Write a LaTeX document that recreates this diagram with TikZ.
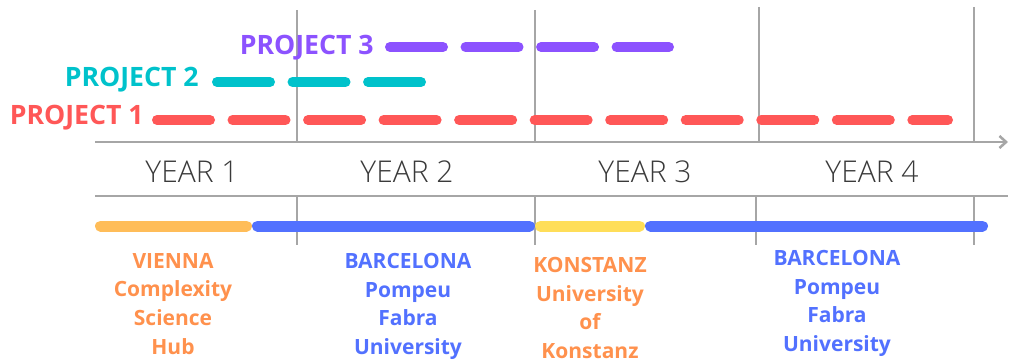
\documentclass[tikz,border=0pt]{standalone}
\usepackage{fontspec}
\setmainfont{Open Sans}
\newfontfamily\yearfont{Open Sans Light}
\usetikzlibrary{arrows.meta}
\definecolor{axisgrey}{HTML}{A6A6A6}
\definecolor{projred}{HTML}{FF5757}
\definecolor{projteal}{HTML}{00C2CB}
\definecolor{projpurple}{HTML}{8C52FF}
\definecolor{stayblue}{HTML}{5271FF}
\definecolor{stayorange}{HTML}{FFBD59}
\definecolor{stayyellow}{HTML}{FFDE59}
\definecolor{labelorange}{HTML}{FF914D}
\definecolor{yeargrey}{HTML}{3A3A3A}
\begin{document}
\begin{tikzpicture}[x=0.75pt,y=-0.75pt,
		axis/.style={draw=axisgrey,line width=1.9pt},
		project/.style={line width=7.5pt,line cap=round,dash pattern=on 39.75pt off 16.9pt},
		stay/.style={line width=8.25pt,line cap=round},
		projlabel/.style={font=\bfseries\fontsize{20}{24}\selectfont,anchor=base east,inner sep=0pt},
		yearlabel/.style={font=\yearfont\fontsize{22.5}{27}\selectfont,text=yeargrey,anchor=base,inner sep=0pt},
		placelabel/.style={font=\bfseries\fontsize{15.75}{21.5}\selectfont,align=center,anchor=north,inner sep=0pt}]
	\useasboundingbox (0,0) rectangle (1010,360);
	% year grid
	\draw[axis,-{Straight Barb[length=5pt,width=9pt]}] (95,142) -- (1008,142);
	\draw[axis] (95,196) -- (1008,196);
	\foreach \x/\t in {297/10,535/10,759/7,974/7}
		\draw[axis] (\x,\t) -- (\x,143);
	\foreach \x in {297,535,756,974}
		\draw[axis] (\x,196) -- (\x,245);
	\node[yearlabel] (year1) at (192,182) {YEAR 1};
	\node[yearlabel] (year2) at (407,182) {YEAR 2};
	\node[yearlabel] (year3) at (645,182) {YEAR 3};
	\node[yearlabel] (year4) at (872,182) {YEAR 4};
	% projects
	\node[projlabel,text=projpurple] (proj3) at (374,55) {PROJECT 3};
	\node[projlabel,text=projteal] (proj2) at (199,87) {PROJECT 2};
	\node[projlabel,text=projred] (proj1) at (144,124) {PROJECT 1};
	\draw[project,projpurple] (390,47) -- (669,47);
	\draw[project,projteal] (217,82) -- (421,82);
	\draw[project,projred] (157,120) -- (948,120);
	% where
	\draw[stay,stayyellow] (540.5,226) -- (639.5,226);
	\draw[stay,stayblue] (257.5,226) -- (529.5,226);
	\draw[stay,stayblue] (650.5,226) -- (982.5,226);
	\draw[stay,stayorange] (100.5,226) -- (246.5,226);
	\node[placelabel,text=labelorange] (vienna) at (173,253) {VIENNA\\Complexity\\Science\\Hub};
	\node[placelabel,text=stayblue] (bcn1) at (408,253) {BARCELONA\\Pompeu\\Fabra\\University};
	\node[placelabel,text=labelorange] (konstanz) at (590,257) {KONSTANZ\\University\\of\\Konstanz};
	\node[placelabel,text=stayblue] (bcn2) at (837,250) {BARCELONA\\Pompeu\\Fabra\\University};
\end{tikzpicture}
\end{document}
